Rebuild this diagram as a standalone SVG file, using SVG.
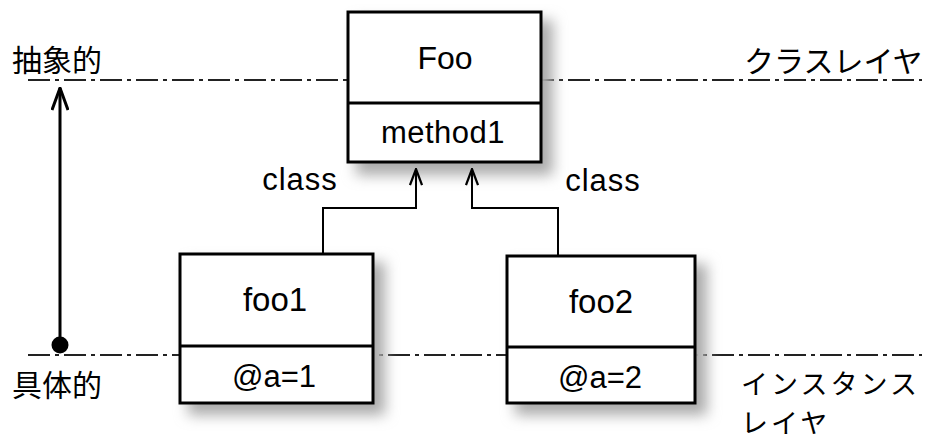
<svg xmlns="http://www.w3.org/2000/svg" width="929" height="441" viewBox="0 0 929 441">
<defs>
<filter id="sh" x="-20%" y="-20%" width="150%" height="150%">
<feGaussianBlur stdDeviation="7"/>
</filter>
<marker id="ah" viewBox="0 0 18 14" refX="17" refY="7" markerWidth="18" markerHeight="14" markerUnits="userSpaceOnUse" orient="auto">
<path d="M1,1 L17,7 L1,13" fill="none" stroke="#000" stroke-width="2.2"/>
</marker>
<marker id="ah2" viewBox="0 0 24 18" refX="23" refY="9" markerWidth="24" markerHeight="18" markerUnits="userSpaceOnUse" orient="auto">
<path d="M1,1 L23,9 L1,17" fill="none" stroke="#000" stroke-width="3"/>
</marker>
</defs>
<style>
.box{fill:#fff;stroke:#000;stroke-width:3}
.div{stroke:#000;stroke-width:3}
.shadow{fill:#aaa;filter:url(#sh)}
.t{font-family:"Liberation Sans",Arial,sans-serif;fill:#000;text-anchor:middle}
.jp{font-family:"Noto Sans CJK JP","Noto Sans",sans-serif;fill:#000}
.layer{fill:none;stroke:#222;stroke-width:2;stroke-dasharray:22 5 4 5}
.conn{fill:none;stroke:#000;stroke-width:2}
</style>
<rect width="929" height="441" fill="#fff"/>
<g id="layers">
<line class="layer" x1="28" y1="80" x2="922" y2="80"/>
<line class="layer" x1="28" y1="355" x2="922" y2="355"/>
</g>
<g id="shadows">
<rect class="shadow" x="356" y="20" width="197" height="155"/>
<rect class="shadow" x="188" y="262" width="197" height="153"/>
<rect class="shadow" x="515" y="264" width="192" height="151"/>
</g>
<g id="connectors">
<polyline class="conn" points="323,254 323,208 416,208 416,169" marker-end="url(#ah)"/>
<polyline class="conn" points="558,256 558,208 472,208 472,169" marker-end="url(#ah)"/>
<line x1="60" y1="345" x2="60" y2="88" stroke="#000" stroke-width="3" marker-end="url(#ah2)"/>
<circle cx="60" cy="345" r="8.5" fill="#000"/>
<text class="t" x="300" y="190" font-size="31" letter-spacing="1">class</text>
<text class="t" x="603" y="191" font-size="31" letter-spacing="1">class</text>
</g>
<g id="Foo">
<rect class="box" x="348" y="12" width="193" height="150"/>
<line class="div" x1="348" y1="103" x2="541" y2="103"/>
<text class="t" x="445" y="69" font-size="32">Foo</text>
<text class="t" x="443" y="143" font-size="31" letter-spacing="0.5">method1</text>
</g>
<g id="foo1">
<rect class="box" x="180" y="254" width="193" height="149"/>
<line class="div" x1="180" y1="346" x2="373" y2="346"/>
<text class="t" x="275" y="311" font-size="33">foo1</text>
<text class="t" x="274" y="387" font-size="31">@a=1</text>
</g>
<g id="foo2">
<rect class="box" x="507" y="256" width="188" height="147"/>
<line class="div" x1="507" y1="347" x2="695" y2="347"/>
<text class="t" x="601" y="313" font-size="33">foo2</text>
<text class="t" x="600" y="388" font-size="31">@a=2</text>
</g>
<g id="labels">
<text class="jp" x="12" y="71" font-size="30">抽象的</text>
<text class="jp" x="12" y="396" font-size="30">具体的</text>
<text class="jp" x="744" y="72" font-size="30">クラスレイヤ</text>
<text class="jp" x="741" y="394" font-size="27" letter-spacing="3">インスタンス</text>
<text class="jp" x="741" y="433" font-size="27" letter-spacing="3">レイヤ</text>
</g>
</svg>
